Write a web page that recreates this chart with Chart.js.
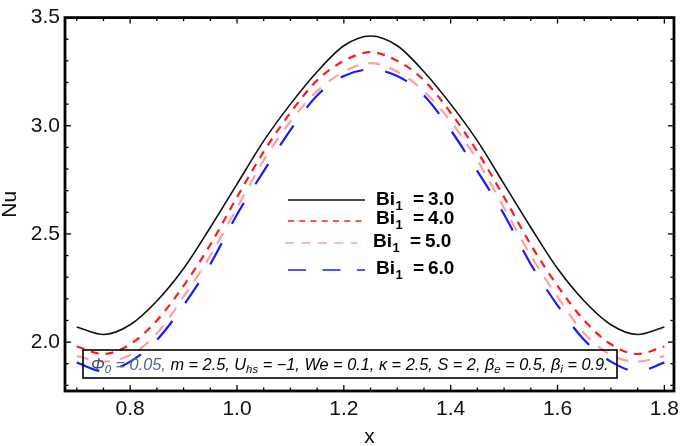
<!DOCTYPE html>
<html><head><meta charset="utf-8">
<script src="https://cdn.jsdelivr.net/npm/chart.js@4"></script>
<style>html,body{margin:0;padding:0;background:#fff}canvas{display:block}</style>
</head><body>
<canvas id="c" width="685" height="446"></canvas>
<script>
// ---- data ----
const xValues = [0.70,0.75,0.80,0.85,0.90,0.95,1.00,1.05,1.10,1.15,1.20,1.25,1.30,1.35,1.40,1.45,1.50,1.55,1.60,1.65,1.70,1.75,1.80];
const nuBi3 = [2.07,2.035,2.08,2.19,2.34,2.53,2.73,2.93,3.10,3.25,3.37,3.415,3.37,3.25,3.10,2.93,2.73,2.53,2.34,2.19,2.08,2.035,2.07];
const nuBi4 = [1.98,1.945,1.99,2.10,2.26,2.45,2.67,2.88,3.06,3.21,3.30,3.34,3.30,3.21,3.06,2.88,2.67,2.45,2.26,2.10,1.99,1.945,1.98];
const nuBi5 = [1.935,1.91,1.94,2.04,2.21,2.40,2.62,2.84,3.02,3.16,3.25,3.29,3.25,3.16,3.02,2.84,2.62,2.40,2.21,2.04,1.94,1.91,1.935];
const nuBi6 = [1.905,1.865,1.91,2.01,2.17,2.36,2.59,2.79,2.98,3.14,3.23,3.26,3.23,3.14,2.98,2.79,2.59,2.36,2.17,2.01,1.91,1.865,1.905];
const biLabels = ['3.0','4.0','5.0','6.0'];
const xTickValues = [0.8,1.0,1.2,1.4,1.6,1.8];
const yTickValues = [2.0,2.5,3.0,3.5];
const xTitle = 'x';
const yTitle = 'Nu';

// ---- styles ----
const FONT = '"Liberation Sans", Arial, sans-serif';
const styles = [
  {color:'#111111', width:1.6, dash:[]},
  {color:'#ff1a1a', width:2.2, dash:[8,7]},
  {color:'#ffa0a0', width:2.2, dash:[12,10]},
  {color:'#1a1aff', width:2.2, dash:[24,22]}
];
const seriesData = [nuBi3, nuBi4, nuBi5, nuBi6];

const datasets = seriesData.map((arr,i)=>({
  label:'Bi1 = '+biLabels[i],
  data: xValues.map((xv,k)=>({x:xv, y:arr[k]})),
  borderColor: styles[i].color,
  borderWidth: styles[i].width,
  borderDash: styles[i].dash,
  pointRadius:0,
  fill:false,
  cubicInterpolationMode:'monotone',
  order: 3-i
}));

const frameTicks = {
  id:'frameTicks',
  afterDraw(chart){
    const {ctx, chartArea:a, scales:{x,y}} = chart;
    ctx.save();
    ctx.strokeStyle='#000';
    ctx.lineWidth=1.3;
    ctx.setLineDash([]);
    const seg=(x1,y1,x2,y2)=>{ctx.beginPath();ctx.moveTo(x1,y1);ctx.lineTo(x2,y2);ctx.stroke();};
    for(let k=0;k<=22;k++){
      const v=0.70+k*0.05;
      const px=x.getPixelForValue(v);
      const major=xTickValues.some(t=>Math.abs(t-v)<1e-6);
      const L=major?6:3.5;
      seg(px,a.bottom,px,a.bottom-L);
      seg(px,a.top,px,a.top+L);
    }
    for(let k=0;k<=17;k++){
      const v=1.8+k*0.1;
      const py=y.getPixelForValue(v);
      const major=yTickValues.some(t=>Math.abs(t-v)<1e-6);
      const L=major?6:3.5;
      seg(a.left,py,a.left+L,py);
      seg(a.right,py,a.right-L,py);
    }
    ctx.lineWidth=2.8;
    ctx.strokeRect(a.left,a.top,a.right-a.left,a.bottom-a.top);

    // legend
    const rows=[{ly:200,x1:288,x2:365,tx:376,ty:200},{ly:221,x1:288,x2:365,tx:376,ty:219},{ly:243,x1:285,x2:357,tx:373,ty:242},{ly:270,x1:288,x2:365,tx:376,ty:269}];
    rows.forEach((r,i)=>{
      ctx.strokeStyle=styles[i].color;
      ctx.lineWidth=i===0?1.3:1.6;
      ctx.setLineDash(styles[i].dash.length?styles[i].dash.map(d=>d*0.75):[]);
      seg(r.x1,r.ly,r.x2,r.ly);
      ctx.setLineDash([]);
      ctx.fillStyle='#000';
      ctx.textBaseline='middle';
      ctx.textAlign='left';
      ctx.font='bold 19px '+FONT;
      ctx.fillText('Bi',r.tx,r.ty);
      const w=ctx.measureText('Bi').width;
      ctx.font='bold 13px '+FONT;
      ctx.fillText('1',r.tx+w+0.5,r.ty+6);
      ctx.font='bold 19px '+FONT;
      ctx.fillText('=',r.tx+37,r.ty);
      ctx.fillText(biLabels[i],r.tx+52,r.ty);
    });

    // parameter box
    ctx.lineWidth=1.6;
    ctx.strokeStyle='#000';
    ctx.strokeRect(83,350,534,28);
    const C1='#3b4c75', C2='#000';
    const segs=[['Φ',0,C1],['0',1,C1],[' = 0.05, ',0,'#56668a'],['m = 2.5, U',0,C2],['hs',1,C2],[' = −1, We = 0.1, κ = 2.5, S = 2, β',0,C2],['e',1,C2],[' = 0.5, β',0,C2],['i',1,C2],[' = 0.9.',0,C2]];
    const measure=(fs)=>{let t=0;segs.forEach(s=>{ctx.font='italic '+(s[1]?fs*0.7:fs)+'px '+FONT;t+=ctx.measureText(s[0]).width;});return t;};
    let fs=15; const target=518;
    fs=fs*target/measure(fs);
    let cx=91; const by=370;
    ctx.textBaseline='alphabetic';
    segs.forEach(s=>{
      ctx.font='italic '+(s[1]?fs*0.7:fs)+'px '+FONT;
      ctx.fillStyle=s[2];
      ctx.fillText(s[0],cx,s[1]?by+3:by);
      cx+=ctx.measureText(s[0]).width;
    });
    ctx.restore();
  }
};

new Chart(document.getElementById('c'),{
  type:'line',
  data:{datasets},
  options:{
    responsive:false,
    devicePixelRatio:1,
    animation:false,
    layout:{padding:{top:10,right:3,left:0,bottom:0}},
    plugins:{legend:{display:false},tooltip:{enabled:false}},
    scales:{
      x:{
        type:'linear', min:0.678, max:1.818,
        grid:{display:false, drawTicks:false},
        border:{display:false},
        afterFit(s){s.height=55;},
        afterBuildTicks(s){s.ticks=xTickValues.map(v=>({value:v}));},
        ticks:{padding:6, color:'#111', font:{family:FONT,size:21}, callback:v=>v.toFixed(1), maxRotation:0, autoSkip:false},
        title:{display:true,text:xTitle,color:'#111',font:{family:FONT,size:21,lineHeight:0.85},padding:{top:0,bottom:0}}
      },
      y:{
        type:'linear', min:1.774, max:3.5,
        grid:{display:false, drawTicks:false},
        border:{display:false},
        afterFit(s){s.width=65;},
        afterBuildTicks(s){s.ticks=yTickValues.map(v=>({value:v}));},
        ticks:{padding:5, color:'#111', font:{family:FONT,size:21}, callback:v=>v.toFixed(1), autoSkip:false},
        title:{display:true,text:yTitle,color:'#111',font:{family:FONT,size:21,lineHeight:1.0},padding:{top:0,bottom:0}}
      }
    }
  },
  plugins:[frameTicks]
});
</script>
</body></html>
